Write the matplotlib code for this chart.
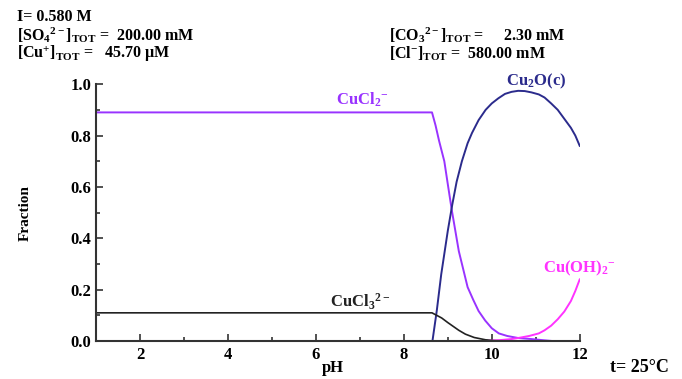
import matplotlib
matplotlib.use("Agg")
import matplotlib.pyplot as plt
from matplotlib.ticker import MultipleLocator

plt.rcParams['font.family'] = ['Liberation Serif', 'DejaVu Serif']
plt.rcParams['mathtext.fontset'] = 'custom'
plt.rcParams['mathtext.rm'] = 'Liberation Serif:bold'
plt.rcParams['mathtext.it'] = 'Liberation Serif:bold:italic'
plt.rcParams['mathtext.bf'] = 'Liberation Serif:bold'
plt.rcParams['mathtext.default'] = 'rm'

# CuCl2- (purple)
ph_cucl2 = [1.0, 8.64, 8.72, 8.8, 8.92, 9.0, 9.09, 9.17, 9.25, 9.35, 9.45, 9.58, 9.7,
            9.85, 10.0, 10.16, 10.35, 10.6, 10.9, 11.2, 11.4]
fr_cucl2 = [0.89, 0.89, 0.84, 0.78, 0.70, 0.61, 0.51, 0.43, 0.35, 0.28, 0.21, 0.16, 0.117,
            0.08, 0.05, 0.03, 0.02, 0.012, 0.008, 0.003, 0.0]

# Cu2O(c) (navy)
ph_cu2o = [8.65, 8.75, 8.85, 9.0, 9.1, 9.2, 9.32, 9.45, 9.55, 9.7, 9.86, 10.0, 10.15,
           10.3, 10.45, 10.6, 10.75, 10.9, 11.07, 11.2, 11.35, 11.5, 11.65, 11.8, 11.9, 12.0]
fr_cu2o = [0.0, 0.12, 0.26, 0.43, 0.53, 0.62, 0.70, 0.77, 0.81, 0.86, 0.90, 0.925, 0.945,
           0.962, 0.970, 0.974, 0.973, 0.968, 0.960, 0.948, 0.925, 0.90, 0.865, 0.83, 0.80, 0.76]

# CuCl3 2- (black)
ph_cucl3 = [1.0, 8.64, 8.75, 8.86, 9.0, 9.1, 9.25, 9.4, 9.6, 9.86, 10.1, 10.5]
fr_cucl3 = [0.11, 0.11, 0.10, 0.09, 0.072, 0.06, 0.042, 0.027, 0.014, 0.005, 0.002, 0.0]

# Cu(OH)2- (magenta)
ph_cuoh2 = [9.86, 10.2, 10.45, 10.6, 10.85, 11.07, 11.2, 11.35, 11.5, 11.65, 11.8, 11.9, 12.0]
fr_cuoh2 = [0.0, 0.004, 0.008, 0.012, 0.02, 0.03, 0.042, 0.06, 0.085, 0.115, 0.156, 0.195, 0.24]

fig = plt.figure(figsize=(6.82, 3.79), dpi=100)
ax = fig.add_axes([0.141, 0.1, 0.709, 0.678])

c_purple = '#9933ff'
c_navy = '#2b2b8c'
c_black = '#222222'
c_magenta = '#ff33ff'

ax.plot(ph_cucl2, fr_cucl2, color=c_purple, lw=1.4)
ax.plot(ph_cu2o, fr_cu2o, color=c_navy, lw=1.4)
ax.plot(ph_cucl3, fr_cucl3, color=c_black, lw=1.2)
ax.plot(ph_cuoh2, fr_cuoh2, color=c_magenta, lw=1.4)

ax.set_xlim(1, 12)
ax.set_ylim(0, 1.0)
ax.spines['top'].set_visible(False)
ax.spines['right'].set_visible(False)
for s in ['left', 'bottom']:
    ax.spines[s].set_linewidth(1.5)
    ax.spines[s].set_color('#333333')
ax.xaxis.set_major_locator(MultipleLocator(2))
ax.xaxis.set_minor_locator(MultipleLocator(1))
ax.yaxis.set_major_locator(MultipleLocator(0.2))
ax.yaxis.set_minor_locator(MultipleLocator(0.1))
ax.tick_params(which='both', direction='in', color='#333333', width=1.2, labelsize=12)
ax.tick_params(which='major', length=5)
ax.tick_params(which='minor', length=3)
ax.tick_params(axis='x', pad=4)
ax.set_yticks([0, 0.2, 0.4, 0.6, 0.8, 1.0])
ax.set_yticklabels(['0.0', '0.2', '0.4', '0.6', '0.8', '1.0'], fontweight='bold')
ax.set_xticks([2, 4, 6, 8, 10, 12])
ax.set_xticklabels(['2', '4', '6', '8', '10', '12'], fontweight='bold')

ax.set_ylabel('Fraction', fontsize=11, fontweight='bold', labelpad=28)
fig.text(0.488, 0.008, 'pH', fontsize=12, fontweight='bold', ha='center', va='bottom')
fig.text(0.895, 0.008, 't= 25°C', fontsize=13, fontweight='bold', ha='left', va='bottom')

ax.text(7.05, 0.905, r'CuCl$_2$$^{-}$', color=c_purple, fontsize=12, ha='center', va='bottom', fontweight='bold')
ax.text(11.0, 0.975, 'Cu$_2$O(c)', color=c_navy, fontsize=12, ha='center', va='bottom', fontweight='bold')
ax.text(12.0, 0.245, r'Cu(OH)$_2$$^{-}$', color=c_magenta, fontsize=12, ha='center', va='bottom', fontweight='bold')
ax.text(7.0, 0.115, r'CuCl$_3$$^{2-}$', color=c_black, fontsize=12, ha='center', va='bottom', fontweight='bold')

fs = 11.5
fig.text(0.025, 0.955, 'I= 0.580 M', fontsize=fs, fontweight='bold', va='center')
fig.text(0.025, 0.908, r'[SO$_4$$^{2-}$]$_{\mathrm{TOT}}$ =  200.00 mM', fontsize=fs, fontweight='bold', va='center')
fig.text(0.025, 0.858, r'[Cu$^{+}$]$_{\mathrm{TOT}}$ =   45.70 µM', fontsize=fs, fontweight='bold', va='center')
fig.text(0.57, 0.908, r'[CO$_3$$^{2-}$]$_{\mathrm{TOT}}$ =     2.30 mM', fontsize=fs, fontweight='bold', va='center')
fig.text(0.57, 0.858, r'[Cl$^{-}$]$_{\mathrm{TOT}}$ =  580.00 mM', fontsize=fs, fontweight='bold', va='center')

fig.savefig('out.png', dpi=100)
